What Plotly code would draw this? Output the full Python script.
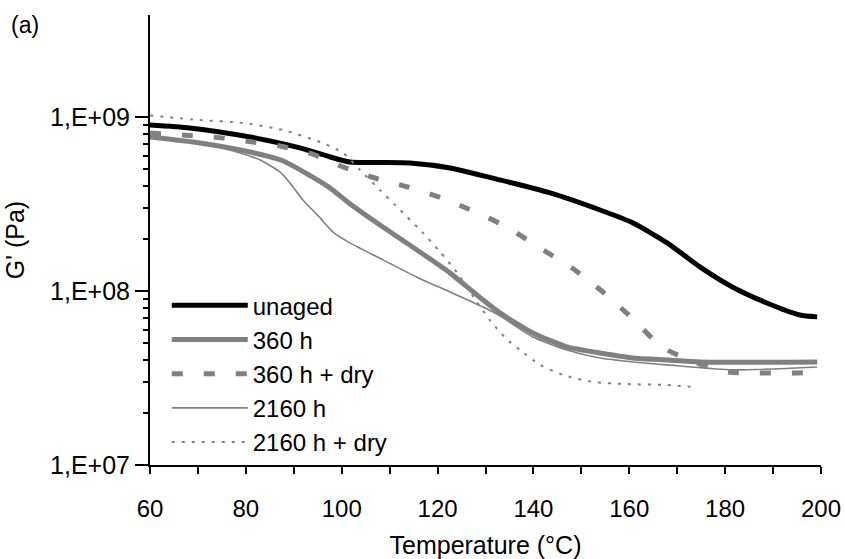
import plotly.graph_objects as go

# Temperature (°C) and storage modulus G' (Pa)
T_unaged = [60, 68.3, 80.9, 91.3, 97.6, 101.7, 108, 114.2, 122.6, 133, 143.5, 153.9, 160.8, 167.9, 174.8, 181.6, 188.7, 195.6, 199.2]
G_unaged = [9.0e8, 8.65e8, 7.67e8, 6.64e8, 5.89e8, 5.51e8, 5.48e8, 5.44e8, 5.09e8, 4.35e8, 3.66e8, 2.92e8, 2.46e8, 1.89e8, 1.37e8, 1.05e8, 8.53e7, 7.28e7, 7.10e7]

T_360 = [60, 70.4, 80.9, 87.7, 93.4, 97.6, 101.7, 108.6, 115.7, 122.6, 129.5, 133, 139.9, 147, 153.9, 160.8, 167.9, 174.8, 199.2]
G_360 = [7.67e8, 7.09e8, 6.29e8, 5.6e8, 4.6e8, 3.9e8, 3.17e8, 2.33e8, 1.72e8, 1.27e8, 8.87e7, 7.48e7, 5.74e7, 4.77e7, 4.40e7, 4.12e7, 4.01e7, 3.91e7, 3.91e7]

T_360dry = [60, 66.7, 73.1, 79.8, 87.1, 93.8, 100.3, 106.9, 113.8, 120.9, 127.4, 134.5, 141, 148, 154.5, 160.8, 166.8, 174.1, 180.6, 186.9, 193.9, 198]
G_360dry = [8.09e8, 7.88e8, 7.67e8, 7.28e8, 6.81e8, 6.13e8, 5.16e8, 4.46e8, 3.96e8, 3.42e8, 2.88e8, 2.33e8, 1.79e8, 1.36e8, 9.87e7, 6.9e7, 4.77e7, 3.85e7, 3.42e7, 3.38e7, 3.38e7, 3.40e7]

T_2160 = [60, 70.4, 78.8, 83, 87.1, 89.2, 91.9, 95.5, 98.2, 101.7, 108.6, 115.7, 122.6, 129.5, 133, 139.9, 147, 153.9, 160.8, 167.9, 181.6, 199.2]
G_2160 = [7.67e8, 7.09e8, 6.21e8, 5.66e8, 4.83e8, 4.18e8, 3.33e8, 2.63e8, 2.18e8, 1.89e8, 1.51e8, 1.20e8, 9.87e7, 8.09e7, 7.2e7, 5.44e7, 4.58e7, 4.12e7, 3.91e7, 3.76e7, 3.52e7, 3.66e7]

T_2160dry = [60, 70.4, 79.4, 87.7, 95.5, 100.3, 103.8, 108, 112.2, 117, 120.5, 124.1, 128.2, 130.9, 133, 135.1, 137.2, 141.4, 146.2, 152.4, 159.5, 167.9, 173.3]
G_2160dry = [1.02e9, 9.6e8, 9.24e8, 8.42e8, 7.18e8, 6.21e8, 4.96e8, 3.80e8, 2.92e8, 2.15e8, 1.68e8, 1.27e8, 8.65e7, 6.81e7, 5.81e7, 5.09e7, 4.58e7, 3.76e7, 3.29e7, 3.0e7, 2.92e7, 2.88e7, 2.81e7]

x_ticks = [60, 80, 100, 120, 140, 160, 180, 200]
x_minor = [70, 90, 110, 130, 150, 170, 190]
y_ticks = [1e7, 1e8, 1e9]
y_ticktext = ["1,E+07", "1,E+08", "1,E+09"]
y_minor = [m * 10 ** e for e in (7, 8) for m in range(2, 10)]

grey = "#808080"
series = [
    ("unaged", T_unaged, G_unaged, dict(color="black", width=5)),
    ("360 h", T_360, G_360, dict(color=grey, width=5)),
    ("360 h + dry", T_360dry, G_360dry, dict(color=grey, width=5, dash="11px,21px")),
    ("2160 h", T_2160, G_2160, dict(color=grey, width=1.6)),
    ("2160 h + dry", T_2160dry, G_2160dry, dict(color=grey, width=2, dash="3px,7px")),
]

fig = go.Figure()
for i, (name, xs, ys, ln) in enumerate(series):
    fig.add_trace(go.Scatter(
        x=xs, y=ys, mode="lines", name=name, legendgroup=f"g{i}",
        line=dict(shape="spline", smoothing=0.6, **ln),
    ))

fig.update_layout(
    width=845, height=559,
    margin=dict(l=150, r=24, t=15, b=94),
    plot_bgcolor="white", paper_bgcolor="white",
    font=dict(family="Liberation Sans, Arial, sans-serif", size=24, color="black"),
    showlegend=True,
    legend=dict(
        x=0.025, y=0.404, xanchor="left", yanchor="top",
        bgcolor="rgba(0,0,0,0)", itemwidth=76, tracegroupgap=0,
        font=dict(size=24, color="black"),
    ),
    annotations=[dict(text="(a)", x=(9 - 150) / 671, y=(465 - 25) / 450,
                      xref="paper", yref="paper", showarrow=False,
                      font=dict(size=23), xanchor="left", yanchor="middle")],
)

fig.update_xaxes(
    range=[60, 200], tickvals=x_ticks, ticks="outside", ticklen=7, tickwidth=2,
    tickcolor="black", showline=True, linewidth=2, linecolor="black",
    showgrid=False, zeroline=False, automargin=False,
    minor=dict(tickvals=x_minor, ticks="outside", ticklen=7, tickwidth=2, tickcolor="black"),
    title=dict(text="Temperature (°C)", font=dict(size=25), standoff=18),
    tickfont=dict(size=24), ticklabelstandoff=14,
)
fig.update_yaxes(
    type="log", range=[7, 9.586], tickvals=y_ticks, ticktext=y_ticktext,
    ticks="outside", ticklen=13, tickwidth=2, tickcolor="black",
    showline=True, linewidth=2, linecolor="black", showgrid=False, zeroline=False,
    automargin=False,
    minor=dict(tickvals=y_minor, ticks="outside", ticklen=5, tickwidth=1.5, tickcolor="black"),
    title=dict(text="G' (Pa)", font=dict(size=25), standoff=18),
    tickfont=dict(size=25),
)

fig.write_html("out.html")
